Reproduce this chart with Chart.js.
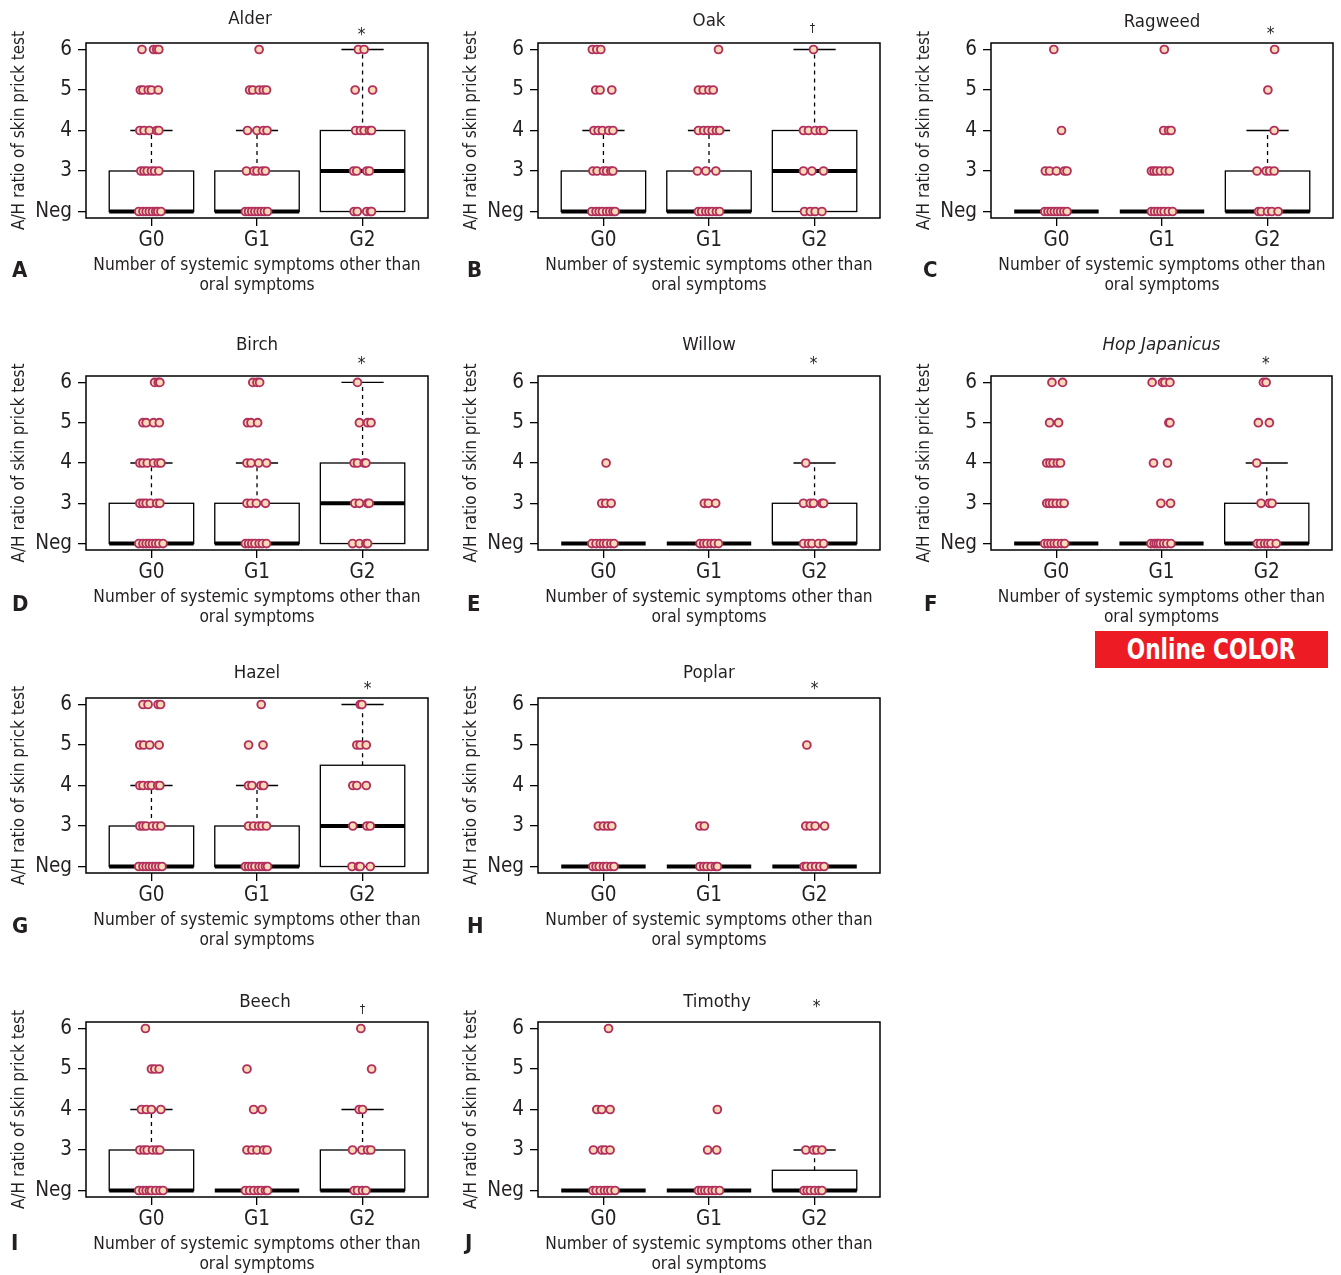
<!DOCTYPE html>
<html><head><meta charset="utf-8">
<script src="https://cdn.jsdelivr.net/npm/chart.js@4.4.1/dist/chart.umd.min.js"></script>
<style>
html,body{margin:0;padding:0;background:#fff;width:1341px;height:1275px;overflow:hidden;position:relative;}
canvas{position:absolute;}
.lt{position:absolute;font-weight:bold;font-size:22px;line-height:22px;font-family:'Liberation Sans Narrow','DejaVu Sans Condensed',sans-serif;color:#231f20;}
.badge{position:absolute;left:1095px;top:631px;width:233px;height:37px;background:#ed1c24;color:#fff;font-weight:bold;font-size:28px;font-family:'Liberation Sans Narrow','DejaVu Sans Condensed',sans-serif;text-align:center;line-height:37px;white-space:nowrap;}
.badge span{display:inline-block;transform:scaleX(0.86);transform-origin:center;}
</style></head><body>
<div class="badge"><span>Online COLOR</span></div>
<script>
// ---------- data ----------
const groups = ['G0', 'G1', 'G2'];
const groupValues = [1, 2, 3];
const yTickValues = [2, 3, 4, 5, 6];
const yTickLabels = ['Neg', '3', '4', '5', '6'];
const xTitle = ['Number of systemic symptoms other than', 'oral symptoms'];
const yTitle = 'A/H ratio of skin prick test';
const panelTitles = ['Alder', 'Oak', 'Ragweed', 'Birch', 'Willow', 'Hop Japanicus', 'Hazel', 'Poplar', 'Beech', 'Timothy'];
const panelLetters = ['A', 'B', 'C', 'D', 'E', 'F', 'G', 'H', 'I', 'J'];
const markers = ['*', '\u2020', '*', '*', '*', '*', '*', '*', '\u2020', '*'];

// box stats per group: [Q1, median, Q3, upper whisker] (value 2 = Neg)
const alderBox   = [[2,2,3,4],[2,2,3,4],[2,3,4,6]];
const oakBox     = [[2,2,3,4],[2,2,3,4],[2,3,4,6]];
const ragweedBox = [[2,2,2,2],[2,2,2,2],[2,2,3,4]];
const birchBox   = [[2,2,3,4],[2,2,3,4],[2,3,4,6]];
const willowBox  = [[2,2,2,2],[2,2,2,2],[2,2,3,4]];
const hopBox     = [[2,2,2,2],[2,2,2,2],[2,2,3,4]];
const hazelBox   = [[2,2,3,4],[2,2,3,4],[2,3,4.5,6]];
const poplarBox  = [[2,2,2,2],[2,2,2,2],[2,2,2,2]];
const beechBox   = [[2,2,3,4],[2,2,2,2],[2,2,3,4]];
const timothyBox = [[2,2,2,2],[2,2,2,2],[2,2,2.5,3]];

// individual points: per group, value -> horizontal jitter offsets
const alderPts = [
  {6:[-.09,.02,.05,.07], 5:[-.105,-.08,-.03,0,.065], 4:[-.11,-.07,-.02,.05,.07], 3:[-.1,-.07,-.04,0,.03,.07], 2:[-.12,-.08,-.05,-.02,.01,.04,.06,.09]},
  {6:[.02], 5:[-.07,-.04,.02,.06,.09], 4:[-.09,0,.06,.095], 3:[-.1,-.03,0,.05,.08], 2:[-.11,-.08,-.05,-.02,.01,.04,.07,.1]},
  {6:[-.04,.015], 5:[-.07,.095], 4:[-.065,-.02,.015,.065,.085], 3:[-.085,-.055,.04,.065], 2:[-.08,-.05,.04,.075,.085]}
];
const oakPts = [
  {6:[-.105,-.063,-.025], 5:[-.073,-.032,.079], 4:[-.09,-.05,-.01,.05,.09], 3:[-.1,-.06,0,.03,.07,.09], 2:[-.11,-.07,-.04,-.01,.03,.06,.09,.11]},
  {6:[.09], 5:[-.1,-.055,0,.04], 4:[-.1,-.05,-.01,.03,.07,.1], 3:[-.11,-.03,.065], 2:[-.1,-.07,-.03,0,.03,.07,.1]},
  {6:[-.01], 4:[-.105,-.057,.006,.054,.085], 3:[-.105,-.025,.085], 2:[-.095,-.04,.006,.07]}
];
const ragweedPts = [
  {6:[-.025], 4:[.048], 3:[-.105,-.065,0,.075,.1], 2:[-.11,-.08,-.05,-.02,.01,.04,.07,.1]},
  {6:[.022], 4:[.016,.063,.086], 3:[-.1,-.075,-.05,-.015,.03,.07], 2:[-.1,-.07,-.04,-.01,.02,.06,.1]},
  {6:[.067], 5:[.003], 4:[.063], 3:[-.1,-.013,.02,.063], 2:[-.085,-.06,0,.04,.1]}
];
const birchPts = [
  {6:[.03,.065,.08], 5:[-.08,-.05,.02,.075], 4:[-.11,-.08,-.04,.02,.065,.09], 3:[-.11,-.08,-.05,-.01,.05,.08], 2:[-.12,-.08,-.05,-.02,.01,.04,.07,.11]},
  {6:[-.04,0,.025], 5:[-.09,-.057,.006], 4:[-.095,-.057,.016,.09], 3:[-.095,-.057,-.006,.08], 2:[-.11,-.08,-.05,-.02,.02,.05,.09]},
  {6:[-.048], 5:[-.03,.048,.08], 4:[-.08,-.048,.016,.032], 3:[-.073,-.03,.048,.063], 2:[-.095,-.03,.032,.048]}
];
const willowPts = [
  {4:[.025], 3:[-.016,.022,.073], 2:[-.11,-.07,-.03,0,.03,.07,.1]},
  {3:[-.044,-.006,.063], 2:[-.085,-.05,-.02,.02,.05,.09]},
  {4:[-.083], 3:[-.105,-.04,-.01,.07,.086], 2:[-.105,-.057,-.025,.038,.086]}
];
const hopPts = [
  {6:[-.041,.06], 5:[-.063,.022], 4:[-.09,-.06,-.03,.01,.04], 3:[-.09,-.065,-.035,0,.04,.075], 2:[-.11,-.08,-.05,-.02,.01,.05,.08]},
  {6:[-.089,.01,.032,.08], 5:[.07,.08], 4:[-.076,.057], 3:[-.006,.086], 2:[-.1,-.07,-.05,-.03,-.01,.02,.05,.09]},
  {6:[-.032,-.006], 5:[-.08,.025], 4:[-.095], 3:[-.054,.025,.05], 2:[-.09,-.06,-.02,.01,.04,.09]}
];
const hazelPts = [
  {6:[-.08,-.032,.063,.086], 5:[-.11,-.073,-.016,.073], 4:[-.11,-.08,-.03,0,.06,.08], 3:[-.11,-.08,-.05,.01,.05,.09], 2:[-.12,-.08,-.05,-.02,.01,.04,.07,.1]},
  {6:[.04], 5:[-.08,.057], 4:[-.08,-.048,.038,.063], 3:[-.08,-.032,.016,.048,.09], 2:[-.11,-.08,-.05,-.02,.02,.05,.08,.1]},
  {6:[-.022,-.006], 5:[-.054,-.022,.035], 4:[-.092,-.054,.035], 3:[-.092,.041,.073], 2:[-.1,-.038,-.022,.073]}
];
const poplarPts = [
  {3:[-.048,0,.041,.079], 2:[-.1,-.07,-.04,0,.03,.07,.1]},
  {3:[-.086,-.044], 2:[-.086,-.05,-.02,.02,.06,.08]},
  {5:[-.073], 3:[-.083,-.041,.006,.095], 2:[-.1,-.075,-.03,.01,.05,.09]}
];
const beechPts = [
  {6:[-.057], 5:[0,.032,.073], 4:[-.095,-.048,0,.089], 3:[-.11,-.07,-.04,.01,.05,.08], 2:[-.12,-.08,-.05,-.02,0,.04,.08,.11]},
  {5:[-.095], 4:[-.032,.048], 3:[-.095,-.048,0,.063,.095], 2:[-.11,-.07,-.03,.01,.04,.08,.1]},
  {6:[-.016], 5:[.086], 4:[-.032,0], 3:[-.095,-.006,.048,.079], 2:[-.079,-.048,0,.032]}
];
const timothyPts = [
  {6:[.048], 4:[-.063,-.016,.063], 3:[-.095,-.016,.016,.063], 2:[-.1,-.07,-.03,.01,.04,.07,.11]},
  {4:[.079], 3:[-.013,.073], 2:[-.1,-.07,-.04,-.01,.03,.06,.1]},
  {3:[-.083,-.01,.022,.07], 2:[-.1,-.07,-.04,0,.04,.07]}
];

const panelBoxes = [alderBox, oakBox, ragweedBox, birchBox, willowBox, hopBox, hazelBox, poplarBox, beechBox, timothyBox];
const panelPoints = [alderPts, oakPts, ragweedPts, birchPts, willowPts, hopPts, hazelPts, poplarPts, beechPts, timothyPts];

// ---------- layout / style ----------
const FONT = "'Liberation Sans Narrow','DejaVu Sans Condensed',Arial,sans-serif";
const TXT = '#231f20';
const PAD_TOP = 50, AXIS_W = 86, AXIS_H = 82, PAD_R = 6;
// plot area [left, top, right, bottom], title offsets [dx, dy], marker offsets [dx, dy], letter pos [x, y]
const layout = [
  {area:[86,43,428,218],   t:[-7,24], m:[-1,10], lt:[12,259]},
  {area:[538,43,880,218],  t:[0,22],  m:[-2,14], lt:[467,259]},
  {area:[991,43,1333,218], t:[0,21],  m:[3,11],  lt:[923,259]},
  {area:[86,376,428,550],  t:[0,31],  m:[-1,14], lt:[12,593]},
  {area:[538,376,880,550], t:[0,31],  m:[-1,14], lt:[467,593]},
  {area:[991,376,1332,550],t:[0,31],  m:[-1,14], lt:[924,593]},
  {area:[86,698,428,873],  t:[0,25],  m:[5,11],  lt:[12,915]},
  {area:[538,698,880,873], t:[0,25],  m:[0,11],  lt:[467,915]},
  {area:[86,1022,428,1197],t:[8,20],  m:[0,12],  lt:[11,1232]},
  {area:[538,1022,880,1197],t:[8,20], m:[2,17],  lt:[465,1232]}
];

const panelPlugin = {
  id: 'panelPlugin',
  beforeDatasetsDraw(chart) {
    const i = +chart.canvas.dataset.idx;
    const box = panelBoxes[i];
    const {ctx, scales: {x, y}} = chart;
    ctx.save();
    ctx.strokeStyle = '#000';
    ctx.lineCap = 'butt';
    const seg = (x1, y1, x2, y2) => { ctx.beginPath(); ctx.moveTo(x1, y1); ctx.lineTo(x2, y2); ctx.stroke(); };
    box.forEach((b, gi) => {
      const g = groupValues[gi];
      const [q1, med, q3, hi] = b;
      const xc = x.getPixelForValue(g), xl = x.getPixelForValue(g - 0.4), xr = x.getPixelForValue(g + 0.4);
      const sl = x.getPixelForValue(g - 0.2), sr = x.getPixelForValue(g + 0.2);
      if (hi > q3) {
        ctx.lineWidth = 1.3;
        ctx.setLineDash([4, 4]);
        seg(xc, y.getPixelForValue(q3), xc, y.getPixelForValue(hi));
        ctx.setLineDash([]);
        seg(sl, y.getPixelForValue(hi), sr, y.getPixelForValue(hi));
      }
      if (q3 > q1) {
        ctx.lineWidth = 1.3;
        ctx.strokeRect(xl, y.getPixelForValue(q3), xr - xl, y.getPixelForValue(q1) - y.getPixelForValue(q3));
      }
      ctx.lineWidth = 4;
      seg(xl, y.getPixelForValue(med), xr, y.getPixelForValue(med));
    });
    ctx.restore();
  },
  afterDraw(chart) {
    const i = +chart.canvas.dataset.idx;
    const L = layout[i];
    const {ctx, chartArea: a, scales: {x}} = chart;
    ctx.save();
    ctx.strokeStyle = '#000';
    ctx.lineWidth = 1.5;
    ctx.strokeRect(a.left, a.top, a.right - a.left, a.bottom - a.top);
    ctx.fillStyle = TXT;
    ctx.textAlign = 'center';
    ctx.textBaseline = 'middle';
    ctx.font = (i === 5 ? 'italic ' : '') + '18.5px ' + FONT;
    ctx.fillText(panelTitles[i], (a.left + a.right) / 2 + L.t[0], a.top - L.t[1]);
    const mk = markers[i];
    ctx.font = (mk === '*' ? '17px ' : '12px ') + FONT;
    ctx.fillText(mk, x.getPixelForValue(groupValues[2]) + L.m[0], a.top - L.m[1] + (mk === '*' ? 3 : 0));
    ctx.restore();
  }
};

panelPoints.forEach((pts, i) => {
  const L = layout[i];
  const [l, t, r, b] = L.area;
  const cv = document.createElement('canvas');
  cv.width = (r - l) + AXIS_W + PAD_R;
  cv.height = PAD_TOP + (b - t) + AXIS_H;
  cv.style.left = (l - AXIS_W) + 'px';
  cv.style.top = (t - PAD_TOP) + 'px';
  cv.dataset.idx = i;
  document.body.appendChild(cv);

  const data = [];
  pts.forEach((grp, gi) => {
    Object.keys(grp).forEach(v => {
      grp[v].forEach(j => data.push({x: groupValues[gi] + j, y: +v}));
    });
  });

  const lt = document.createElement('div');
  lt.className = 'lt';
  lt.textContent = panelLetters[i];
  lt.style.left = L.lt[0] + 'px';
  lt.style.top = L.lt[1] + 'px';
  document.body.appendChild(lt);

  new Chart(cv, {
    type: 'scatter',
    data: {datasets: [{
      data,
      pointRadius: 3.9,
      pointBorderWidth: 1.9,
      pointBackgroundColor: '#fadbb8',
      pointBorderColor: '#b3305d'
    }]},
    options: {
      responsive: false,
      animation: false,
      devicePixelRatio: 1,
      layout: {padding: {top: PAD_TOP, left: 0, right: PAD_R, bottom: 0}},
      plugins: {legend: {display: false}, tooltip: {enabled: false}},
      scales: {
        x: {
          type: 'linear', min: 0.38, max: 3.62,
          afterBuildTicks: s => { s.ticks = groupValues.map(v => ({value: v})); },
          afterFit: s => { s.height = AXIS_H; },
          ticks: {callback: v => groups[groupValues.indexOf(v)], font: {family: FONT, size: 20.5}, color: TXT, padding: 2, maxRotation: 0, autoSkip: false},
          grid: {drawOnChartArea: false, drawTicks: true, tickLength: 8, color: '#000', lineWidth: 1.3},
          border: {display: false},
          title: {display: true, text: xTitle, font: {family: FONT, size: 17.2, lineHeight: 1.163}, color: TXT, padding: {top: 0, bottom: 4}}
        },
        y: {
          type: 'linear', min: 1.84, max: 6.16,
          afterBuildTicks: s => { s.ticks = yTickValues.map(v => ({value: v})); },
          afterFit: s => { s.width = AXIS_W; },
          ticks: {callback: v => yTickLabels[yTickValues.indexOf(v)], font: {family: FONT, size: 20.5}, color: TXT, padding: 6},
          grid: {drawOnChartArea: false, drawTicks: true, tickLength: 8, color: '#000', lineWidth: 1.3},
          border: {display: false},
          title: {display: true, text: yTitle, font: {family: FONT, size: 17, lineHeight: 1.15}, color: TXT, padding: {top: 10, bottom: 0}}
        }
      }
    },
    plugins: [panelPlugin]
  });
});
</script>
</body></html>
